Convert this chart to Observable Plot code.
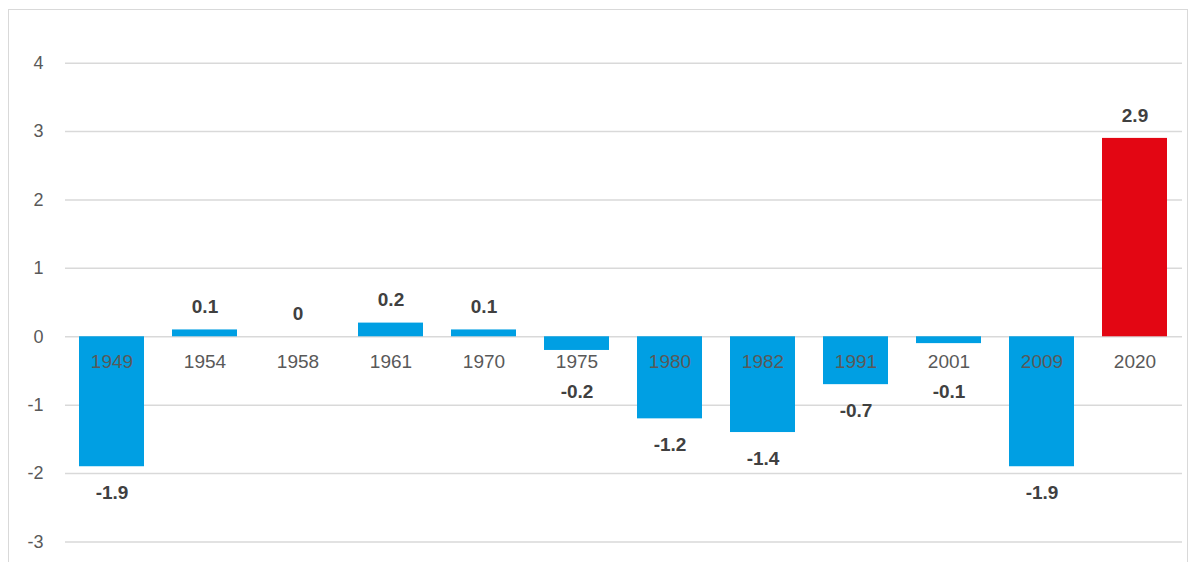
<!DOCTYPE html>
<html><head><meta charset="utf-8">
<script src="https://cdn.jsdelivr.net/npm/d3@7"></script>
<script src="https://cdn.jsdelivr.net/npm/@observablehq/plot@0.6"></script>
<style>
body{margin:0;background:#fff;font-family:"Liberation Sans",Arial,sans-serif}
#wrap{position:relative;width:1198px;height:562px;overflow:hidden}
#border{position:absolute;left:8px;top:9px;width:1180px;height:560px;border:1px solid #d9d9d9;box-sizing:border-box}
#chart{position:absolute;left:0;top:0}
</style></head>
<body><div id="wrap"><div id="border"></div><div id="chart"></div></div>
<script>
const years = ["1949","1954","1958","1961","1970","1975","1980","1982","1991","2001","2009","2020"]
const values = [-1.9, 0.1, 0, 0.2, 0.1, -0.2, -1.2, -1.4, -0.7, -0.1, -1.9, 2.9]
const yTicks = [-3, -2, -1, 0, 1, 2, 3, 4]

const data = years.map((y, i) => ({year: y, value: values[i]}))
const pos = data.filter(d => d.value >= 0)
const negBig = data.filter(d => d.value < -0.5)
const negSmall = data.filter(d => d.value < 0 && d.value >= -0.5)

const chart = Plot.plot({
  width: 1198,
  height: 562,
  marginLeft: 65,
  marginRight: 16,
  marginTop: 10,
  marginBottom: 0,
  style: {fontFamily: "Liberation Sans, Arial, sans-serif", background: "transparent"},
  x: {domain: years, paddingInner: 0.3, paddingOuter: 0.15, axis: null},
  y: {domain: [-3.3, 4.77], axis: null},
  marks: [
    Plot.ruleY(yTicks, {stroke: "#d9d9d9", strokeWidth: 1.5}),
    Plot.text(yTicks, {y: d => d, frameAnchor: "left", text: d => String(d), dx: -22, textAnchor: "end", fontSize: 18, fill: "#595959"}),
    Plot.barY(data, {x: "year", y: "value", fill: d => d.year === "2020" ? "#e30613" : "#009fe3"}),
    Plot.text(data, {x: "year", y: 0, text: "year", dy: 25, fontSize: 19, fill: "#595959"}),
    Plot.text(pos, {x: "year", y: "value", text: d => String(d.value), dy: -23, fontSize: 19, fontWeight: "bold", fill: "#404040"}),
    Plot.text(negBig, {x: "year", y: "value", text: d => String(d.value), dy: 26, fontSize: 19, fontWeight: "bold", fill: "#404040"}),
    Plot.text(negSmall, {x: "year", y: 0, text: d => String(d.value), dy: 55, fontSize: 19, fontWeight: "bold", fill: "#404040"})
  ]
})
d3.select('#chart').append(() => chart)
</script></body></html>
